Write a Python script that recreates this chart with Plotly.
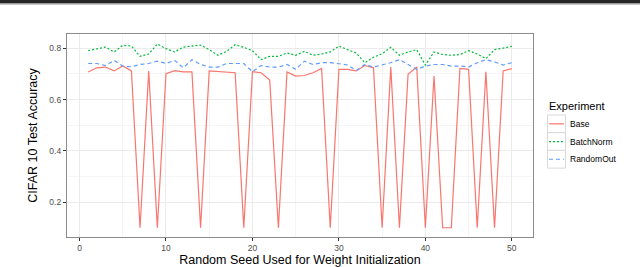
import plotly.graph_objects as go

seeds = list(range(1, 51))
base = [0.708, 0.724, 0.727, 0.712, 0.731, 0.712, 0.1, 0.712, 0.1, 0.701,
        0.713, 0.708, 0.708, 0.1, 0.712, 0.710, 0.707, 0.705, 0.1, 0.709,
        0.705, 0.676, 0.1, 0.708, 0.692, 0.694, 0.705, 0.722, 0.1, 0.718,
        0.718, 0.712, 0.733, 0.724, 0.1, 0.727, 0.1, 0.699, 0.727, 0.1,
        0.692, 0.1, 0.1, 0.722, 0.718, 0.1, 0.709, 0.1, 0.712, 0.721]
batchnorm = [0.791, 0.798, 0.805, 0.786, 0.812, 0.809, 0.769, 0.778, 0.817, 0.799,
             0.786, 0.805, 0.808, 0.813, 0.795, 0.773, 0.788, 0.814, 0.804, 0.791,
             0.756, 0.769, 0.769, 0.782, 0.773, 0.788, 0.773, 0.778, 0.786, 0.809,
             0.795, 0.782, 0.744, 0.765, 0.779, 0.804, 0.773, 0.786, 0.795, 0.735,
             0.786, 0.776, 0.773, 0.776, 0.791, 0.778, 0.760, 0.795, 0.801, 0.808]
randomout = [0.741, 0.741, 0.733, 0.753, 0.731, 0.728, 0.737, 0.741, 0.750, 0.741,
             0.753, 0.724, 0.756, 0.737, 0.727, 0.727, 0.741, 0.741, 0.741, 0.709,
             0.733, 0.727, 0.727, 0.737, 0.718, 0.750, 0.737, 0.744, 0.744, 0.740,
             0.735, 0.714, 0.737, 0.727, 0.735, 0.744, 0.756, 0.737, 0.718, 0.731,
             0.737, 0.737, 0.731, 0.731, 0.727, 0.744, 0.756, 0.747, 0.735, 0.744]

series = [("Base", base, "#F8766D", "solid"),
          ("BatchNorm", batchnorm, "#00BA38", "2px,2px"),
          ("RandomOut", randomout, "#619CFF", "4px,3px")]

FONT = "Liberation Sans"
W, H = 640, 267
ML, MR, MT, MB = 67, 107, 34, 30
PW, PH = W - ML - MR, H - MT - MB


def px(xp):
    return (xp - ML) / PW


def py(yp):
    return (H - MB - yp) / PH


fig = go.Figure()
for name, vals, color, dash in series:
    fig.add_trace(go.Scatter(x=seeds, y=vals, mode="lines", name=name,
                             showlegend=False,
                             line=dict(color=color, width=1.2, dash=dash)))

axis_common = dict(
    showgrid=True, gridcolor="#ebebeb", gridwidth=1,
    ticks="outside", ticklen=3, tickcolor="#333333",
    tickfont=dict(family=FONT, size=8.5, color="#4d4d4d"),
    showline=True, linecolor="#8c8c8c", linewidth=1.2, mirror=True,
    zeroline=False,
)

shapes = [
    dict(type="rect", xref="paper", yref="paper", x0=px(-5), x1=px(W + 5),
         y0=py(3.5), y1=py(-2), fillcolor="#262626", line=dict(width=0)),
    dict(type="line", xref="paper", yref="paper", x0=px(-5), x1=px(W + 5),
         y0=py(4.2), y1=py(4.2), line=dict(color="#b0b0b0", width=1)),
]
annotations = [
    dict(text="Experiment", xref="paper", yref="paper", x=px(547), y=py(106),
         xanchor="left", yanchor="middle", showarrow=False,
         font=dict(family=FONT, size=11, color="black")),
]
box_top = 115
box_h = 17.7
for k, (name, vals, color, dash) in enumerate(series):
    y0 = box_top + k * box_h
    y1 = y0 + box_h
    shapes.append(dict(type="rect", xref="paper", yref="paper",
                       x0=px(547.5), x1=px(565.5), y0=py(y1), y1=py(y0),
                       fillcolor="white", line=dict(color="#d9d9d9", width=1)))
    yc = (y0 + y1) / 2
    shapes.append(dict(type="line", xref="paper", yref="paper",
                       x0=px(549), x1=px(564), y0=py(yc), y1=py(yc),
                       line=dict(color=color, width=1.2, dash=dash)))
    annotations.append(dict(text=name, xref="paper", yref="paper", x=px(568), y=py(yc),
                            xanchor="left", yanchor="middle", showarrow=False,
                            font=dict(family=FONT, size=8.5, color="black")))

fig.update_layout(
    width=W, height=H,
    margin=dict(l=ML, r=MR, t=MT, b=MB, autoexpand=False),
    paper_bgcolor="white", plot_bgcolor="white",
    font=dict(family=FONT, color="black"),
    showlegend=False,
    xaxis=dict(range=[-1.45, 52.45], tickvals=[0, 10, 20, 30, 40, 50],
               title=dict(text="Random Seed Used for Weight Initialization",
                          font=dict(size=12.5), standoff=1),
               **axis_common),
    yaxis=dict(range=[0.064, 0.856], tickvals=[0.2, 0.4, 0.6, 0.8],
               tickformat=".1f",
               title=dict(text="CIFAR 10 Test Accuracy", font=dict(size=12.5), standoff=8),
               **axis_common),
    shapes=shapes,
    annotations=annotations,
)
fig.update_xaxes(minor=dict(tickvals=[5, 15, 25, 35, 45], showgrid=True,
                            gridcolor="#f5f5f5", gridwidth=0.6, ticks=""))
fig.update_yaxes(minor=dict(tickvals=[0.3, 0.5, 0.7], showgrid=True,
                            gridcolor="#f5f5f5", gridwidth=0.6, ticks=""))

fig.write_html("out.html", config={"displayModeBar": False},
               post_script="document.body.style.margin='0';document.body.style.overflow='hidden';")
